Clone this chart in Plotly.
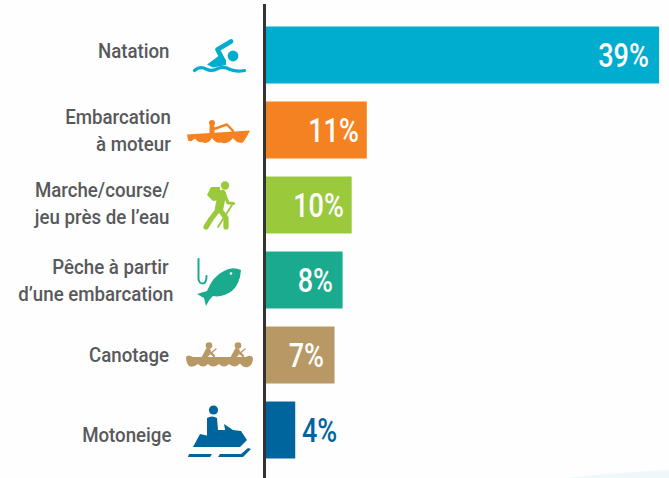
import base64
import plotly.graph_objects as go

W, H = 669, 478
ML, MT = 266, 4

categories = ["Natation", "Embarcation<br>à moteur", "Marche/course/<br>jeu près de l’eau",
              "Pêche à partir\u00a0<br>d’une embarcation", "Canotage", "Motoneige"]
bar_lengths = [39.0, 10.0, 8.5, 7.6, 6.8, 2.9]
value_labels = ["39%", "11%", "10%", "8%", "7%", "4%"]
colors = ["#00adcf", "#f58220", "#9aca3c", "#1aaa8d", "#b89865", "#00659c"]
label_colors = ["white", "white", "white", "white", "white", "#00659c"]
label_nudge_y = [4, 0, 2, 0, 0, -5]
label_nudge_x = [0, 2, 0, 4, 0, 2]
value_nudge_x = [-8, -6, -6, -8, -9, 5]
FONT = "Roboto, sans-serif"
N = len(categories)
LABEL_SQUEEZE = 0.89
VALUE_SQUEEZE = 0.82

positions = list(range(N))
PW, PH = W - ML, H - MT


def px(x):
    return (x - ML) / PW


def py(y):
    return 1 - (y - MT) / PH


def icon(x0, y0, x1, y1, body):
    svg = (f'<svg xmlns="http://www.w3.org/2000/svg" width="{x1-x0}" height="{y1-y0}" '
           f'viewBox="{x0} {y0} {x1-x0} {y1-y0}">{body}</svg>')
    uri = "data:image/svg+xml;base64," + base64.b64encode(svg.encode()).decode()
    return dict(source=uri, xref="paper", yref="paper", x=px(x0), y=py(y0),
                sizex=(x1 - x0) / PW, sizey=(y1 - y0) / PH, sizing="stretch",
                xanchor="left", yanchor="top", layer="above")


def st(d, w, c):
    return (f'<path d="{d}" fill="none" stroke="{c}" stroke-width="{w}" '
            'stroke-linecap="round" stroke-linejoin="round"/>')


def fl(d, c):
    return f'<path d="{d}" fill="{c}"/>'


def ci(x, y, r, c):
    return f'<circle cx="{x}" cy="{y}" r="{r}" fill="{c}"/>'


c = colors
swim = (ci(233, 56, 5.4, c[0])
        + st("M231 41.5 L217.5 49.5 L223 60", 4.8, c[0])
        + fl("M220 55 L226 60 L226 65 L213 67.5 L207 64.5 Z", c[0])
        + st("M194.5 70.5 Q200 65.5 206 69 Q212 72 218 68.5 Q224 66 230 69.5 Q236 72 244.5 70.5", 3.2, c[0]))
boat = (ci(212, 123, 3, c[1])
        + st("M212 127 L212 133", 5, c[1])
        + st("M214 129 L227 124.5 L233 131", 2.4, c[1])
        + fl("M187 134.5 L250 130.5 Q247 137 243 142.5 Q237 144 233 138 Q228 145 221 142.5 Q216 144 212 138 "
             "Q208 145 202 142 Q198 143 195 138.5 Q190 143 188 140 Z", c[1]))
hiker = (ci(225, 185.5, 4.2, c[2])
         + fl("M211 187 L220 187 L220 200 L213 201 L207 195 Z", c[2])
         + st("M222 194 L219 209", 8.5, c[2])
         + st("M218 210 L211 219 L206 227", 5.2, c[2])
         + st("M220 210 L226 218 L226 227", 5.2, c[2])
         + st("M224 193 L228 203 L233.5 203.5", 3.2, c[2])
         + st("M232 205 L218 227", 1.8, c[2]))
fish = (st("M198.5 259 L198.5 279 Q199 283.5 203 283.5 Q206.5 283 206.5 276", 2, c[3])
        + fl("M241 270 Q232 266 224 271 Q213 276 207 291 L197 294 L204 298 L206 306 "
             "Q210 298 213 296 Q222 298 232 291 Q240 284 241 270 Z", c[3])
        + ci(231, 273.5, 1.3, "white"))
canoe = (ci(209, 345.5, 3.3, c[4]) + ci(238, 345.5, 3.3, c[4])
         + st("M208 350.5 L204 358", 5, c[4]) + st("M237 350.5 L233 358", 5, c[4])
         + st("M209 351 L214 356", 2.4, c[4]) + st("M238 351 L243 356", 2.4, c[4])
         + st("M216 349 L205 358", 1.4, c[4]) + st("M245 349 L234 358", 1.4, c[4])
         + fl("M186 357 Q188 354 193 357 L246 357 Q251 354 253 358 Q253 365 248 367 Q243 368 240 363.5 "
              "Q235 369 229 364 Q224 369 219 364 Q213 369 208 364 Q203 369 198 364 Q193 368 189 366 Q186 363 186 357 Z", c[4]))
sled = (ci(213.5, 410, 4.6, c[5])
        + fl("M207 418 Q212 415 217 418 L218 430 L228 430 L228 437 L207 439 Z", c[5])
        + fl("M193 447 L200 434 L218 438 L226 435 L224 424 L230 428 L233 430 L241 431 L247 440 L240 447 Z", c[5])
        + fl("M188 457 L189 454 L212 454 L210 457 Z", c[5])
        + fl("M218 457 L220 454 L241 454 L248 448 L251 449 L243 457 Z", c[5]))

images = [icon(190, 36, 249, 76, swim), icon(184, 117, 253, 147, boat), icon(200, 178, 238, 231, hiker),
          icon(194, 255, 244, 309, fish), icon(184, 340, 255, 370, canoe), icon(186, 402, 254, 460, sled)]

fig = go.Figure(go.Bar(
    x=bar_lengths, y=positions, orientation="h", width=0.76,
    marker=dict(color=colors, line_width=0), hoverinfo="skip",
))

annotations = []
for i, cat in enumerate(categories):
    annotations.append(dict(x=px(171), xref="paper", y=i, yref="y", xshift=label_nudge_x[i], yshift=label_nudge_y[i],
                            text=cat, showarrow=False, xanchor="right", yanchor="middle", align="right",
                            font=dict(family=FONT, size=21, color="#58595b", weight=500)))
for i, lab in enumerate(value_labels):
    outside = label_colors[i] != "white"
    annotations.append(dict(x=bar_lengths[i], xref="x", y=i, yref="y", text=lab,
                            showarrow=False, xanchor="left" if outside else "right", yanchor="middle",
                            xshift=value_nudge_x[i],
                            font=dict(family=FONT, size=33, color=label_colors[i], weight=500)))

fig.update_layout(
    width=W, height=H, autosize=False,
    margin=dict(l=ML, r=0, t=MT, b=0, pad=0),
    paper_bgcolor="#fefefe", plot_bgcolor="#fefefe",
    showlegend=False, bargap=0.24,
    xaxis=dict(range=[0, PW / 10.08], visible=False, fixedrange=True),
    yaxis=dict(range=[(478 - 55) / 75, -(51 / 75)], showgrid=False, zeroline=False, showticklabels=False,
               ticks="", showline=True, linecolor="#333333", linewidth=2.5, fixedrange=True),
    annotations=annotations,
    images=images,
    shapes=[dict(type="path", xref="paper", yref="paper", layer="below", line_width=0, fillcolor="#eef8fb",
                 path=f"M {px(565)} {py(478)} Q {px(620)} {py(472)} {px(669)} {py(470)} L {px(669)} {py(478)} Z")],
)

# The reference face is a condensed DIN; none is installed, so the real text is narrowed horizontally.
squeeze = f"""
document.body.style.margin='0';document.body.style.overflow='hidden';
var N={N}, LS={LABEL_SQUEEZE}, VS={VALUE_SQUEEZE}, anchorLeft=[{N + N - 1}];
document.querySelectorAll('.annotation-text').forEach(function(t,i){{
  var s=i<N?LS:VS, b=t.getBBox(), a=anchorLeft.indexOf(i)>=0?b.x:b.x+b.width;
  t.setAttribute('transform','translate('+(a*(1-s))+',0) scale('+s+',1)');
}});
"""
fig.write_html("out.html", config={"displayModeBar": False}, post_script=squeeze)
